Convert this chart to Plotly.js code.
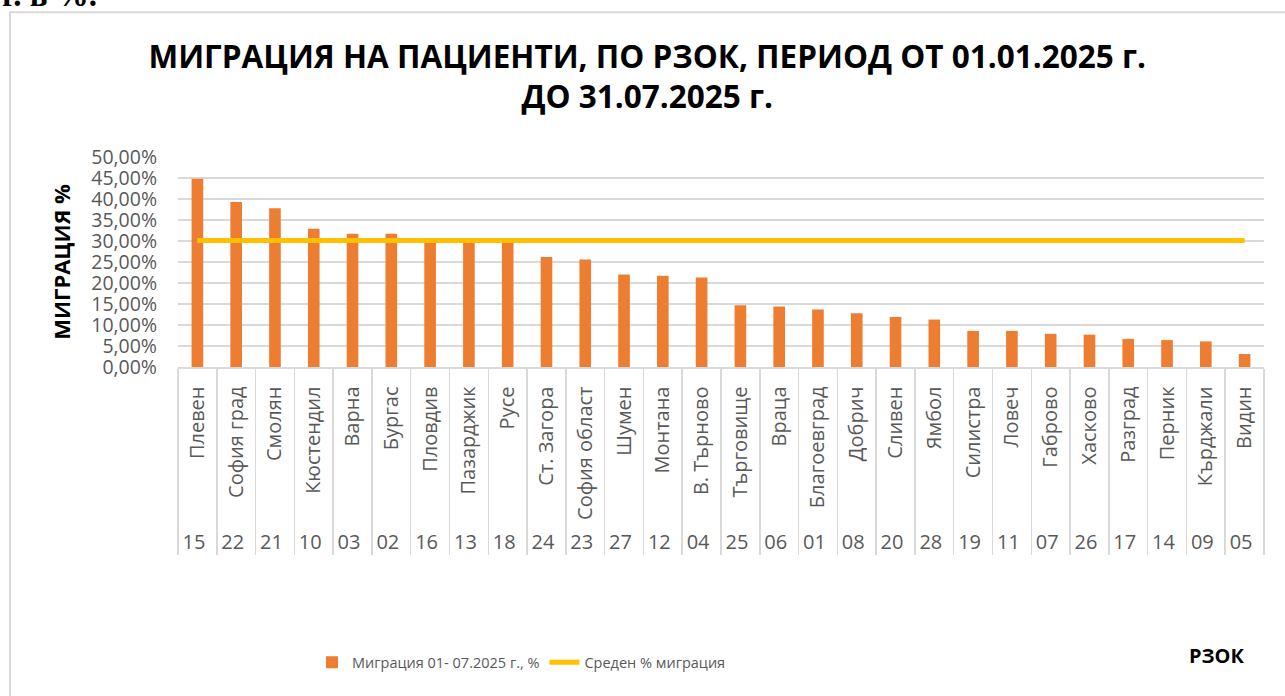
<!DOCTYPE html>
<html>
<head>
<meta charset="utf-8">
<script src="https://cdn.plot.ly/plotly-3.0.1.min.js"></script>
<style>
html,body{margin:0;padding:0;background:#fff;}
#chart{width:1285px;height:696px;}
</style>
</head>
<body>
<div id="chart"></div>
<script>
var regions = ["Плевен","София град","Смолян","Кюстендил","Варна","Бургас","Пловдив","Пазарджик","Русе","Ст. Загора","София област","Шумен","Монтана","В. Търново","Търговище","Враца","Благоевград","Добрич","Сливен","Ямбол","Силистра","Ловеч","Габрово","Хасково","Разград","Перник","Кърджали","Видин"];
var codes = ["15","22","21","10","03","02","16","13","18","24","23","27","12","04","25","06","01","08","20","28","19","11","07","26","17","14","09","05"];
var migration = [0.448,0.393,0.378,0.329,0.317,0.317,0.301,0.300,0.299,0.262,0.256,0.220,0.217,0.213,0.147,0.144,0.137,0.128,0.119,0.113,0.086,0.086,0.079,0.077,0.067,0.064,0.061,0.031];
var average = [0.301,0.301,0.301,0.301,0.301,0.301,0.301,0.301,0.301,0.301,0.301,0.301,0.301,0.301,0.301,0.301,0.301,0.301,0.301,0.301,0.301,0.301,0.301,0.301,0.301,0.301,0.301,0.301];

var FONT = "Open Sans, Noto Sans, sans-serif";
var GRID = "#d9d9d9";

var traces = [
  {type:"bar", name:"Миграция 01- 07.2025 г., %", x:[codes, regions], y:migration,
   marker:{color:"#ED7D31"}, hoverinfo:"y"},
  {type:"scatter", mode:"lines", name:"Среден % миграция", x:[codes, regions], y:average,
   line:{color:"#FFC000", width:5}, hoverinfo:"y"}
];

var layout = {
  width:1285, height:696,
  margin:{l:178, r:21, t:157, b:329, autoexpand:false},
  paper_bgcolor:"#fff", plot_bgcolor:"#fff",
  separators:",.",
  bargap:0.7,
  showlegend:true,
  font:{family:FONT, color:"#595959"},
  title:{text:"<b>МИГРАЦИЯ НА ПАЦИЕНТИ, ПО РЗОК, ПЕРИОД ОТ 01.01.2025 г.<br>ДО 31.07.2025 г.</b>",
         font:{family:FONT, size:31.5, color:"#000"}, x:0.5037, xanchor:"center", y:0.903, yanchor:"middle", yref:"container"},
  xaxis:{type:"multicategory", tickangle:-90, tickfont:{family:FONT, size:20, color:"#595959"},
         ticklabelstandoff:10,
         showline:true, linecolor:GRID, linewidth:1.5, showgrid:false, ticks:"",
         showdividers:true, dividercolor:GRID, dividerwidth:1.5, automargin:false},
  yaxis:{range:[0,0.5], dtick:0.05, tickformat:".2%", showgrid:true, gridcolor:GRID, gridwidth:1.5,
         zeroline:false, ticks:"", ticklabelstandoff:20, tickfont:{family:FONT, size:19.5, color:"#595959"},
         title:{text:"<b>МИГРАЦИЯ %</b>", font:{family:FONT, size:22, color:"#000"}, standoff:14},
         automargin:false, fixedrange:true},
  legend:{orientation:"h", x:0.1234, xanchor:"left", y:-1.406, yanchor:"middle",
          font:{family:FONT, size:14.5, color:"#595959"},
          itemwidth:30, tracegroupgap:0, traceorder:"normal"},
  annotations:[
    {text:"<b>РЗОК</b>", xref:"paper", yref:"paper", x:0.956, y:-1.373, xanchor:"center", yanchor:"middle",
     showarrow:false, font:{family:FONT, size:20, color:"#000"}},
    {text:"<b>г. в %.</b>", xref:"paper", yref:"paper", x:-0.164, y:1.675, xanchor:"left", yanchor:"bottom",
     showarrow:false, font:{family:"Liberation Serif, serif", size:33, color:"#000"}}
  ],
  shapes:[
    {type:"rect", xref:"paper", yref:"paper", x0:(10-178)/1086, x1:(1300-178)/1086, y0:(366.7-710)/210, y1:(366.7-12)/210,
     line:{color:GRID, width:2}, fillcolor:"rgba(0,0,0,0)", layer:"below"}
  ]
};

Plotly.newPlot("chart", traces, layout, {displayModeBar:false, staticPlot:true});
</script>
</body>
</html>
